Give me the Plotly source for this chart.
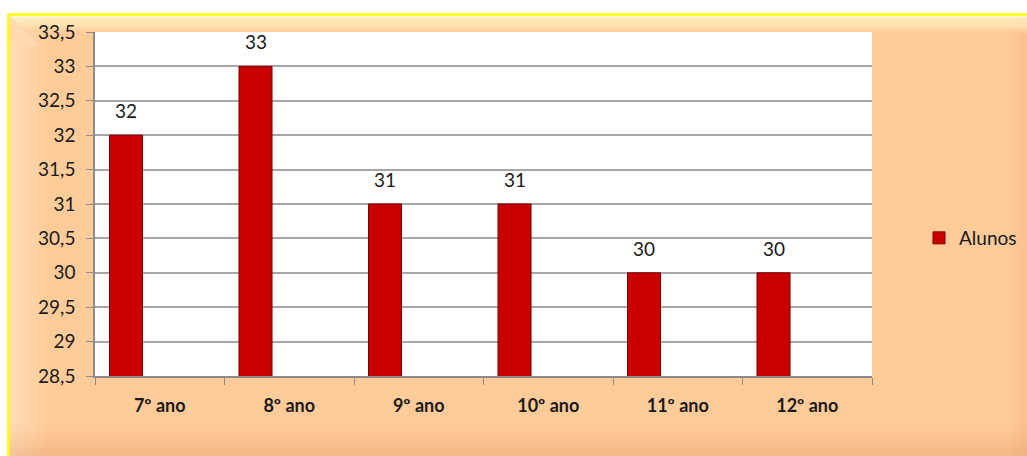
import plotly.graph_objects as go

# Number of students per school year
categories = ["7º ano", "8º ano", "9º ano", "10º ano", "11º ano", "12º ano"]
alunos = [32, 33, 31, 31, 30, 30]

y_tick_values = [28.5, 29, 29.5, 30, 30.5, 31, 31.5, 32, 32.5, 33, 33.5]
y_tick_labels = ["28,5", "29", "29,5", "30", "30,5", "31", "31,5", "32", "32,5", "33", "33,5"]

W, H = 1027, 456
ML, MR, MT, MB = 95, 155, 32, 80
PW, PH = W - ML - MR, H - MT - MB

FONT = "Lato"
BAR_OFFSET = -0.388
BAR_WIDTH = 0.255


def px_x(p):
    return (p - ML) / PW


def px_y(p):
    return (H - MB - p) / PH


def mix(c1, c2, t):
    a = [int(c1[i:i + 2], 16) for i in (1, 3, 5)]
    b = [int(c2[i:i + 2], 16) for i in (1, 3, 5)]
    return "#%02x%02x%02x" % tuple(round(a[k] + (b[k] - a[k]) * t) for k in range(3))


def rect(x0, x1, y0, y1, color):
    return dict(type="rect", xref="paper", yref="paper",
                x0=px_x(x0), x1=px_x(x1), y0=px_y(y1), y1=px_y(y0),
                fillcolor=color, line=dict(width=0), layer="below")


PEACH = "#ffcc99"
shapes = []

# Chart area: peach panel
shapes.append(rect(8, 1040, 14, 470, PEACH))

# Lighter band down the left side (bevel)
steps = 12
for k in range(steps):
    xa = 9 + k * 3
    shapes.append(rect(xa, xa + 3, 15, 470, mix("#ffdcb6", PEACH, k / steps)))

# Slightly darker right edge
steps = 8
for k in range(steps):
    xa = 1003 + k * 3
    shapes.append(rect(xa, xa + 3, 15, 470, mix(PEACH, "#f9c08e", k / steps)))

# Pale glow along the top edge
steps = 16
for k in range(steps):
    ya = 15 + k * 1.1
    shapes.append(rect(9, 1040, ya, ya + 1.1, mix("#fffbd2", PEACH, k / steps)))

# Top-left bevel corner
shapes.append(dict(type="path", xref="paper", yref="paper",
                   path="M %f,%f L %f,%f L %f,%f Z" % (px_x(9), px_y(15), px_x(40), px_y(46), px_x(9), px_y(46)),
                   fillcolor="#ffdab0", line=dict(width=0), layer="below"))

# Darker shading towards the bottom edge (translucent so side bands show through)
steps = 18
for k in range(steps):
    ya = 418 + k * 2.2
    alpha = 0.3 * (k / (steps - 1)) ** 1.6
    shapes.append(rect(9, 1040, ya, ya + 2.3, "rgba(215,135,85,%.3f)" % alpha))

# Yellow frame (top and left edges)
shapes.append(dict(type="line", xref="paper", yref="paper",
                   x0=px_x(8), x1=px_x(1040), y0=px_y(14.5), y1=px_y(14.5),
                   line=dict(color="#ffff00", width=2.5), layer="below"))
shapes.append(dict(type="line", xref="paper", yref="paper",
                   x0=px_x(8.5), x1=px_x(8.5), y0=px_y(470), y1=px_y(14),
                   line=dict(color="#ffff00", width=2.5), layer="below"))

# White plot area
shapes.append(dict(type="rect", xref="paper", yref="paper",
                   x0=0, x1=1, y0=0, y1=1,
                   fillcolor="white", line=dict(width=0), layer="below"))

fig = go.Figure()
fig.add_trace(go.Bar(
    x=categories, y=alunos, name="Alunos",
    offset=BAR_OFFSET, width=BAR_WIDTH,
    marker=dict(color="#c80000", line=dict(color="#7a0000", width=1)),
    showlegend=True, hoverinfo="skip",
))

annotations = []
for i, v in enumerate(alunos):
    annotations.append(dict(
        x=i + BAR_OFFSET + BAR_WIDTH / 2, y=v, xref="x", yref="y",
        text=str(v), showarrow=False, yanchor="bottom", yshift=11,
        font=dict(family=FONT, size=19, color="#1a1a1a"),
    ))

fig.update_layout(
    width=W, height=H,
    margin=dict(l=ML, r=MR, t=MT, b=MB, pad=0, autoexpand=False),
    paper_bgcolor="white", plot_bgcolor="rgba(0,0,0,0)",
    shapes=shapes, annotations=annotations,
    legend=dict(x=px_x(919), y=px_y(238), xanchor="left", yanchor="middle",
                bgcolor="rgba(0,0,0,0)", font=dict(family=FONT, size=19, color="#1a1a1a")),
    xaxis=dict(type="category", tickson="boundaries", ticks="outside", ticklen=7,
               tickcolor="#8c8c8c", showline=True, linecolor="#8c8c8c", linewidth=1.5,
               showgrid=False, ticklabelstandoff=13, automargin=False,
               tickfont=dict(family=FONT, size=18, color="#1a1a1a", weight="bold")),
    yaxis=dict(range=[28.5, 33.5], tickvals=y_tick_values, ticktext=y_tick_labels,
               ticks="outside", ticklen=7, tickcolor="#8c8c8c",
               showline=True, linecolor="#8c8c8c", linewidth=1.5,
               showgrid=True, gridcolor="#a6a6a6", gridwidth=1.5, zeroline=False,
               ticklabelstandoff=7, automargin=False,
               tickfont=dict(family=FONT, size=19, color="#1a1a1a")),
)

fig.write_html("out.html")
